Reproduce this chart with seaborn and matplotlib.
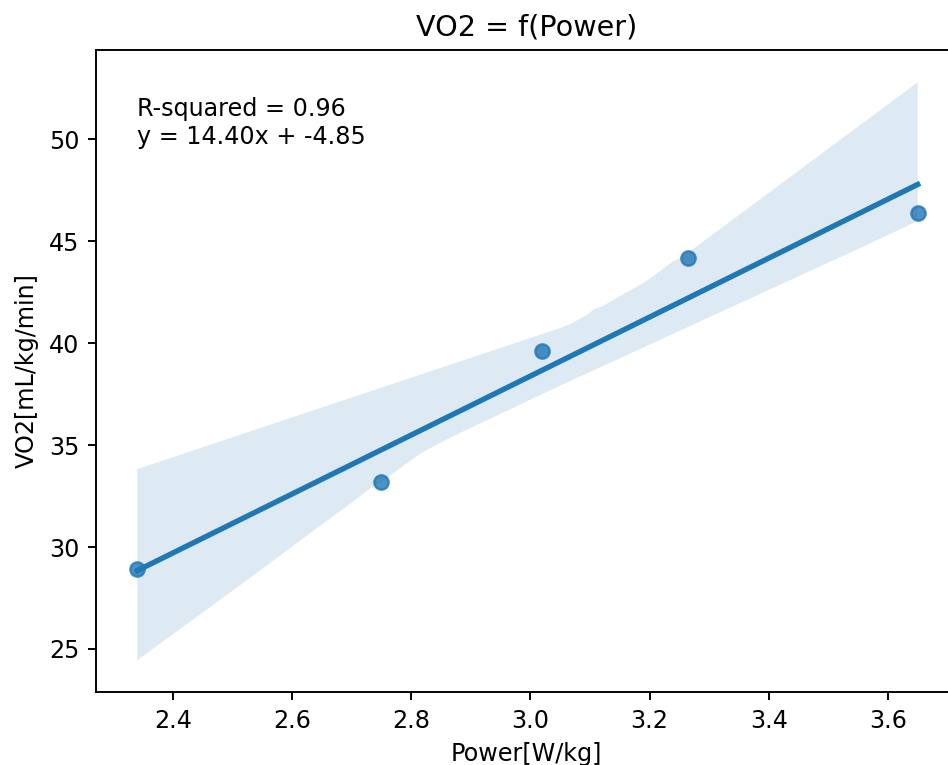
import numpy as np
import pandas as pd
import matplotlib
matplotlib.use("Agg")
import matplotlib.pyplot as plt
import seaborn as sns

# valeurs
power = [2.34, 2.75, 3.02, 3.265, 3.65]   # W/kg
vo2 = [28.9, 33.2, 39.6, 44.2, 46.4]     # mL/kg/min
r2_txt = "R-squared = 0.96"
eq_txt = "y = 14.40x + -4.85"

df = pd.DataFrame({"Power[W/kg]": power, "VO2[mL/kg/min]": vo2})

fig = plt.figure(figsize=(948/172, 765/172), dpi=172)
ax = fig.add_axes([96/948, 73/765, 861/948, 642/765])

sns.regplot(data=df, x="Power[W/kg]", y="VO2[mL/kg/min]", ax=ax, seed=3)

ax.text(0.048, 0.927, r2_txt + "\n" + eq_txt, transform=ax.transAxes,
        va="top", ha="left", fontsize=10)

ax.set_xlim(2.2708, 3.716)
ax.set_ylim(22.89, 54.38)
ax.set_title("VO2 = f(Power)", fontsize=12)

fig.savefig("out.png", dpi=172)
